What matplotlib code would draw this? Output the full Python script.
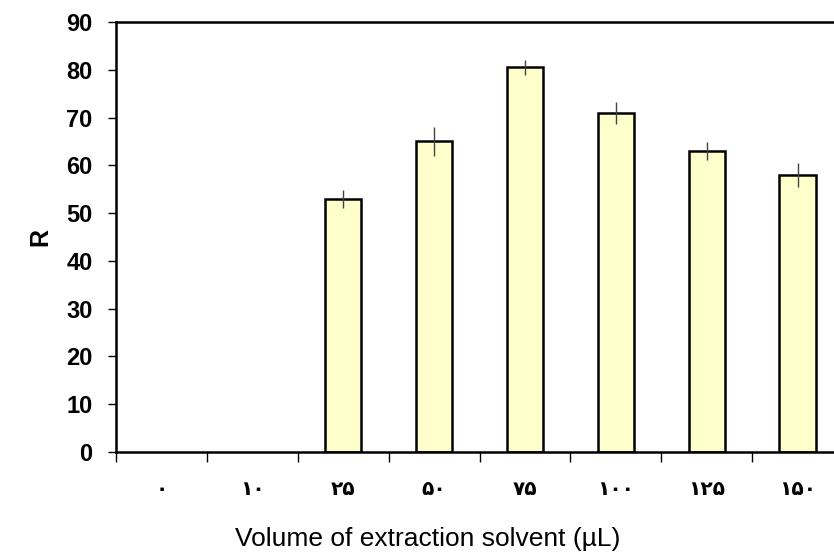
import matplotlib
matplotlib.use("Agg")
import matplotlib.pyplot as plt
import numpy as np

categories = ["۰", "۱۰", "۲۵", "۵۰", "۷۵", "۱۰۰", "۱۲۵", "۱۵۰"]
values = [0, 0, 53, 65, 80.5, 71, 63, 58]
errors = [0, 0, 1.9, 3.0, 1.5, 2.3, 1.8, 2.5]
yticks = [0, 10, 20, 30, 40, 50, 60, 70, 80, 90]

plt.rcParams['font.family'] = ['Liberation Sans', 'DejaVu Sans']

fig = plt.figure(figsize=(8.34, 5.57), dpi=100)
ax = fig.add_axes([116/834, 105/557, (843-116)/834, 430/557])

x = np.arange(len(categories))
mask = [v > 0 for v in values]
xs = x[mask]
vs = [v for v, m in zip(values, mask) if m]
es = [e for e, m in zip(errors, mask) if m]
ax.bar(xs, vs, width=0.4, color="#FFFFCC", edgecolor="black", linewidth=1.8, zorder=2)
ax.errorbar(xs, vs, yerr=es, fmt="none", ecolor="#444444", elinewidth=1.0, capsize=0, zorder=3)

ax.set_xlim(-0.5, len(categories) - 0.5)
ax.set_ylim(0, 90)
ax.set_yticks(yticks)
ax.set_yticklabels([str(t) for t in yticks], fontsize=17, fontweight="bold")

ax.set_xticks(np.arange(len(categories) + 1) - 0.5)
ax.set_xticklabels([])
ax.set_xticks(x, minor=True)
ax.set_xticklabels(categories, minor=True, fontsize=14.5, fontweight="bold",
                   family=["DejaVu Sans"])
ax.tick_params(axis="x", which="major", direction="out", length=7, width=1)
ax.tick_params(axis="x", which="minor", length=0, pad=20)
ax.tick_params(axis="y", direction="out", length=6, width=1, pad=11)

for s in ax.spines.values():
    s.set_linewidth(1.8)

ax.set_ylabel("R", fontsize=18, fontweight="bold")
ax.yaxis.set_label_coords(-64 / (843 - 116), 0.5)
ax.set_xlabel("Volume of extraction solvent (µL)", fontsize=19)
ax.xaxis.set_label_coords((428 - 116) / (843 - 116), -0.175)

fig.savefig("out.png", dpi=100)
